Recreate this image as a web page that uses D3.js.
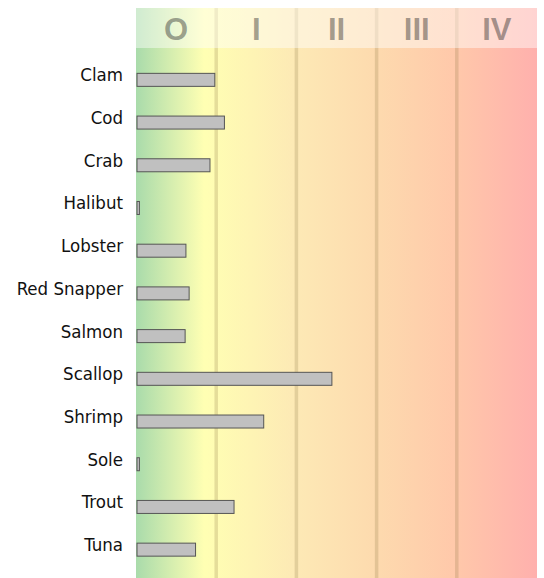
<!DOCTYPE html>
<html>
<head>
<meta charset="utf-8">
<title>Seafood</title>
<script src="https://cdn.jsdelivr.net/npm/d3@7"></script>
<style>
  body { margin: 0; background: #fff; }
</style>
</head>
<body>
<div id="chart"></div>
<script>
  var width = 544, height = 578;

  // fish and their values (one zone = 1 unit)
  var fish = ["Clam", "Cod", "Crab", "Halibut", "Lobster", "Red Snapper",
              "Salmon", "Scallop", "Shrimp", "Sole", "Trout", "Tuna"];
  var values = [0.97, 1.09, 0.91, 0.03, 0.61, 0.65, 0.60, 2.43, 1.58, 0.03, 1.21, 0.73];

  // zones across the top
  var zones = ["O", "I", "II", "III", "IV"];
  var zoneMax = zones.length;

  var plotLeft = 136, plotRight = 537, plotTop = 8, headerBottom = 48;

  var x = d3.scaleLinear().domain([0, zoneMax]).range([plotLeft, plotRight]);
  var y = d3.scaleBand().domain(fish).range([58.5, 571]);
  var barHeight = 13;

  var svg = d3.select("#chart").append("svg")
    .attr("width", width)
    .attr("height", height);

  // background gradient green -> yellow -> orange -> pink
  var grad = svg.append("defs").append("linearGradient")
    .attr("id", "bg")
    .attr("x1", "0%").attr("x2", "100%").attr("y1", "0%").attr("y2", "0%");
  var stops = [[0, "#a9dbab"], [0.17, "#ffffb3"], [0.4, "#fde9b5"],
               [0.6, "#fddaae"], [0.8, "#ffc8aa"], [1, "#ffb0ad"]];
  grad.selectAll("stop").data(stops).enter().append("stop")
    .attr("offset", function(d) { return d[0]; })
    .attr("stop-color", function(d) { return d[1]; });

  svg.append("rect")
    .attr("x", x(0)).attr("y", plotTop)
    .attr("width", x(zoneMax) - x(0))
    .attr("height", height - plotTop)
    .attr("fill", "url(#bg)");

  // zone dividers
  svg.selectAll("line.div").data(d3.range(1, zoneMax)).enter().append("line")
    .attr("class", "div")
    .attr("x1", function(d) { return x(d); })
    .attr("x2", function(d) { return x(d); })
    .attr("y1", plotTop).attr("y2", height)
    .attr("stroke", "#8a7040")
    .attr("stroke-opacity", 0.22)
    .attr("stroke-width", 3.5);

  // light header band
  svg.append("rect")
    .attr("x", x(0)).attr("y", plotTop)
    .attr("width", x(zoneMax) - x(0))
    .attr("height", headerBottom - plotTop)
    .attr("fill", "#fff")
    .attr("fill-opacity", 0.45);

  svg.selectAll("text.zone").data(zones).enter().append("text")
    .attr("class", "zone")
    .attr("x", function(d, i) { return x(i + 0.5); })
    .attr("y", 39.5)
    .attr("text-anchor", "middle")
    .style("font-family", "Liberation Sans, Arial, sans-serif")
    .style("font-weight", "bold")
    .style("font-size", "31px")
    .attr("fill", "#222")
    .attr("fill-opacity", 0.42)
    .text(function(d) { return d; });

  // bars
  svg.selectAll("rect.bar").data(fish).enter().append("rect")
    .attr("class", "bar")
    .attr("x", x(0) + 1)
    .attr("y", function(d) { return y(d) + (y.bandwidth() - barHeight) / 2; })
    .attr("width", function(d, i) { return Math.max(x(values[i]) - x(0), 2); })
    .attr("height", barHeight)
    .attr("fill", "#c0c0c0")
    .attr("stroke", "#555")
    .attr("stroke-width", 1);

  // fish labels
  svg.selectAll("text.label").data(fish).enter().append("text")
    .attr("class", "label")
    .attr("x", 123)
    .attr("y", function(d) { return y(d) + (y.bandwidth() - barHeight) / 2 + 8; })
    .attr("text-anchor", "end")
    .style("font-family", "DejaVu Sans Condensed, DejaVu Sans, sans-serif")
    .style("font-stretch", "condensed")
    .style("font-size", "18.5px")
    .attr("fill", "#111")
    .text(function(d) { return d; });
</script>
</body>
</html>
